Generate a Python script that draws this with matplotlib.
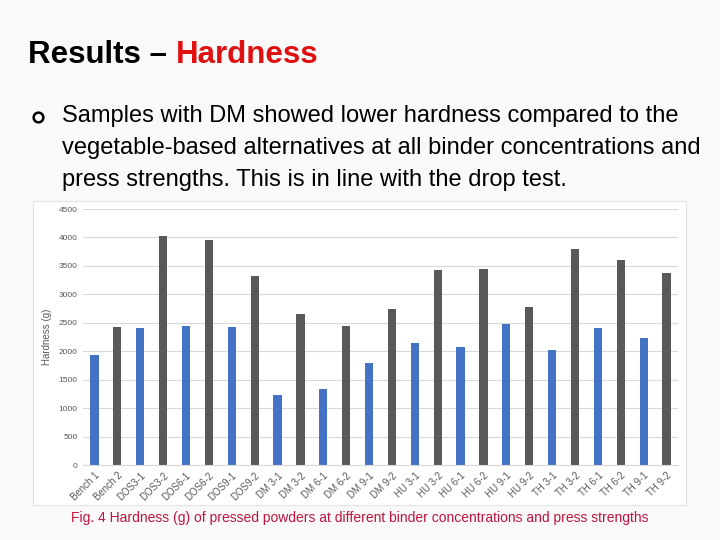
#! /usr/bin/env python

import matplotlib.pyplot as plt
from matplotlib.patches import Rectangle
from matplotlib.lines import Line2D

# sample names and hardness values (g)
samples = ["Bench 1", "Bench 2", "DOS3-1", "DOS3-2", "DOS6-1", "DOS6-2",
           "DOS9-1", "DOS9-2", "DM 3-1", "DM 3-2", "DM 6-1", "DM 6-2",
           "DM 9-1", "DM 9-2", "HU 3-1", "HU 3-2", "HU 6-1", "HU 6-2",
           "HU 9-1", "HU 9-2", "TH 3-1", "TH 3-2", "TH 6-1", "TH 6-2",
           "TH 9-1", "TH 9-2"]
hardness = [1930, 2430, 2410, 4030, 2450, 3960, 2430, 3330, 1230, 2650,
            1330, 2440, 1800, 2750, 2140, 3430, 2080, 3450, 2470, 2770,
            2030, 3800, 2400, 3600, 2230, 3380]
yticks = [0, 500, 1000, 1500, 2000, 2500, 3000, 3500, 4000, 4500]

blue = "#4472C4"
grey = "#595959"
colors = [blue if s.endswith("1") else grey for s in samples]

plt.rcParams['font.family'] = ['Liberation Sans', 'DejaVu Sans']

fig = plt.figure(figsize=(7.2, 5.4), dpi=100)
fig.patch.set_facecolor("#f9f9f9")

W, H = 720.0, 540.0

# white box of the pasted chart
fig.patches.append(Rectangle((33 / W, 1 - 505 / H), 653 / W, 304 / H,
                             transform=fig.transFigure, facecolor="white",
                             edgecolor="#e4e4e4", linewidth=0.8, zorder=-5))

# slide title
t1 = fig.text(28 / W, 1 - 55 / H, "Results \u2013 ", fontsize=22.5, fontweight="bold",
              color="black", va="center", ha="left")
fig.canvas.draw()
bb = t1.get_window_extent()
fig.text(bb.x1 / W, 1 - 55 / H, "Hardness", fontsize=22.5, fontweight="bold",
         color="#e01010", va="center", ha="left")

# bullet
fig.add_artist(Line2D([38 / W], [1 - 117 / H], marker="o", markersize=7,
                      markerfacecolor="none", markeredgecolor="black",
                      markeredgewidth=1.8, transform=fig.transFigure))
lines = ["Samples with DM showed lower hardness compared to the",
         "vegetable-based alternatives at all binder concentrations and",
         "press strengths. This is in line with the drop test."]
for i, ln in enumerate(lines):
    fig.text(62 / W, 1 - (116 + 32 * i) / H, ln, fontsize=17, color="black",
             va="center", ha="left")

# caption
fig.text(360 / W, 1 - 518 / H,
         "Fig. 4 Hardness (g) of pressed powders at different binder concentrations and press strengths",
         fontsize=10, color="#c0143c", va="center", ha="center")

# chart
ax = fig.add_axes([83 / W, 1 - 465 / H, 595 / W, 256 / H], zorder=2)
ax.set_facecolor("white")
ax.bar(range(len(samples)), hardness, width=0.36, color=colors, zorder=2)
ax.set_xlim(-0.5, len(samples) - 0.5)
ax.set_ylim(0, 4500)
ax.set_yticks(yticks)
ax.set_yticklabels([str(v) for v in yticks], fontsize=6, color=grey)
ax.set_xticks(range(len(samples)))
ax.set_xticklabels(samples, rotation=45, ha="right", rotation_mode="anchor",
                   fontsize=7, color=grey)
ax.tick_params(length=0, pad=4)
ax.grid(axis="y", color="#d9d9d9", linewidth=0.8, zorder=0)
for side in ["top", "right", "left"]:
    ax.spines[side].set_visible(False)
ax.spines["bottom"].set_color("#d9d9d9")
ax.set_ylabel("Hardness (g)", fontsize=7, color=grey, labelpad=5)

fig.savefig("out.png", dpi=100, facecolor=fig.get_facecolor())
